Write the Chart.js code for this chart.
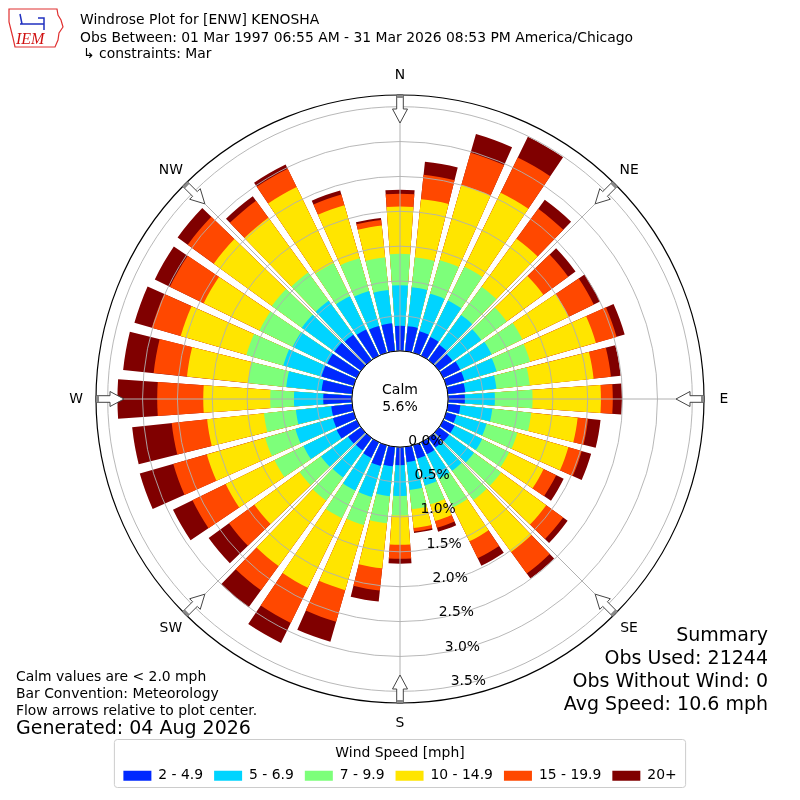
<!DOCTYPE html>
<html>
<head>
<meta charset="utf-8">
<script src="https://cdn.jsdelivr.net/npm/chart.js@4.4.1/dist/chart.umd.min.js"></script>
<style>
  html, body { margin: 0; padding: 0; background: #fff; }
  canvas { display: block; }
</style>
</head>
<body>
<canvas id="rose" width="800" height="800"></canvas>
<script>
// direction bins, 10 degrees apart, clockwise from north
const directions = ['0°','10°','20°','30°','40°','50°','60°','70°','80°','90°','100°','110°',
  '120°','130°','140°','150°','160°','170°','180°','190°','200°','210°','220°','230°',
  '240°','250°','260°','270°','280°','290°','300°','310°','320°','330°','340°','350°'];
const speedBins = ['2 - 4.9', '5 - 6.9', '7 - 9.9', '10 - 14.9', '15 - 19.9', '20+'];

// percent of observations per direction, one array per speed bin
const speed2to5 = [0.36,0.36,0.32,0.30,0.27,0.24,0.27,0.27,0.25,0.24,0.18,0.15,0.18,0.18,0.17,0.19,0.20,0.22,
  0.26,0.28,0.31,0.25,0.22,0.23,0.32,0.31,0.30,0.41,0.44,0.48,0.47,0.47,0.45,0.42,0.40,0.40];
const speed5to7 = [0.58,0.56,0.56,0.58,0.53,0.51,0.50,0.48,0.45,0.43,0.46,0.45,0.44,0.44,0.41,0.39,0.40,0.40,
  0.44,0.43,0.46,0.52,0.48,0.48,0.53,0.56,0.51,0.42,0.51,0.57,0.55,0.58,0.60,0.53,0.52,0.48];
const speed7to10 = [0.45,0.43,0.50,0.54,0.50,0.45,0.49,0.50,0.48,0.54,0.56,0.46,0.43,0.48,0.52,0.46,0.28,0.28,
  0.28,0.39,0.42,0.44,0.41,0.38,0.46,0.45,0.46,0.34,0.55,0.55,0.53,0.53,0.50,0.53,0.49,0.47];
const speed10to15 = [0.68,0.84,1.12,1.18,0.85,0.65,0.74,0.98,0.92,0.98,0.67,0.76,0.55,0.80,0.92,0.54,0.25,0.27,
  0.42,0.65,0.97,1.11,1.16,0.80,0.78,0.87,0.82,0.96,0.88,0.98,0.89,1.03,0.97,1.21,0.79,0.46];
const speed15to20 = [0.18,0.35,0.48,0.56,0.53,0.44,0.40,0.31,0.25,0.17,0.15,0.20,0.20,0.30,0.38,0.27,0.10,0.05,
  0.20,0.32,0.47,0.56,0.43,0.45,0.53,0.50,0.51,0.66,0.48,0.43,0.54,0.46,0.30,0.29,0.16,0.08];
const speed20plus = [0.06,0.19,0.28,0.33,0.16,0.13,0.10,0.12,0.14,0.13,0.18,0.14,0.12,0.08,0.09,0.12,0.06,0.02,
  0.07,0.16,0.30,0.32,0.30,0.36,0.31,0.50,0.57,0.57,0.44,0.26,0.24,0.18,0.08,0.07,0.06,0.03];

const calmPct = 5.6;
const tickValues = [0, 0.5, 1.0, 1.5, 2.0, 2.5, 3.0, 3.5];
const compass = ['N', 'NE', 'E', 'SE', 'S', 'SW', 'W', 'NW'];

const binColors = ['#0028ff', '#00d4ff', '#7dff7a', '#ffe500', '#ff4800', '#800000'];
const R_MIN = -0.69, R_MAX = 3.667;   // 0% sits on the calm ring
const BAR_DEG = 8, GAP_DEG = 2;
const FONT = "'DejaVu Sans', sans-serif";

Chart.defaults.font.family = FONT;
Chart.defaults.color = '#000';

// polarArea has no stacking: every dataset holds the running total and the
// smaller totals are drawn over the bigger ones. A blank slot after each bar
// leaves the gap between directions.
const bins = [speed2to5, speed5to7, speed7to10, speed10to15, speed15to20, speed20plus];
const running = directions.map(() => 0);
const datasets = bins.map((vals, k) => {
  const data = [];
  vals.forEach((v, i) => {
    running[i] += v;
    data.push(+running[i].toFixed(3), 0);
  });
  return {
    label: speedBins[k],
    data: data,
    angle: c => (c.dataIndex % 2 ? GAP_DEG : BAR_DEG),
    backgroundColor: c => (c.dataIndex % 2 ? 'rgba(0,0,0,0)' : binColors[k]),
    borderWidth: 0
  };
});
const labels = [];
directions.forEach(d => labels.push(d, ''));

function poly(ctx, pts) {
  ctx.beginPath();
  pts.forEach((p, k) => (k ? ctx.lineTo(p.x, p.y) : ctx.moveTo(p.x, p.y)));
  ctx.closePath();
}

const roseDecor = {
  id: 'roseDecor',
  afterDatasetsDraw(chart) {
    const r = chart.scales.r, ctx = chart.ctx;
    ctx.save();
    ctx.beginPath();
    ctx.arc(r.xCenter, r.yCenter, r.getDistanceFromCenterForValue(0), 0, 2 * Math.PI);
    ctx.fillStyle = '#fff';
    ctx.fill();
    ctx.restore();
  },
  afterDraw(chart) {
    const r = chart.scales.r, ctx = chart.ctx;
    const rad = deg => (deg - 90) * Math.PI / 180;
    const at = (deg, dist) => ({
      x: r.xCenter + Math.cos(rad(deg)) * dist,
      y: r.yCenter + Math.sin(rad(deg)) * dist
    });
    const inner = r.getDistanceFromCenterForValue(0);
    const outer = r.drawingArea;
    ctx.save();

    // spokes at the 8 compass points
    ctx.strokeStyle = '#b0b0b0';
    ctx.lineWidth = 1;
    compass.forEach((c, i) => {
      const a = at(i * 45, inner), b = at(i * 45, outer);
      ctx.beginPath(); ctx.moveTo(a.x, a.y); ctx.lineTo(b.x, b.y); ctx.stroke();
    });

    // edge of the calm circle
    ctx.beginPath();
    ctx.arc(r.xCenter, r.yCenter, inner, 0, 2 * Math.PI);
    ctx.strokeStyle = '#000';
    ctx.lineWidth = 1;
    ctx.stroke();

    // flow arrows + compass labels
    ctx.font = '13.9px ' + FONT;
    ctx.textAlign = 'center';
    ctx.textBaseline = 'middle';
    compass.forEach((c, i) => {
      const deg = i * 45;
      const side = rad(deg) + Math.PI / 2;
      const pt = (dist, off) => {
        const p = at(deg, dist);
        return { x: p.x + Math.cos(side) * off, y: p.y + Math.sin(side) * off };
      };
      poly(ctx, [pt(outer, -3.3), pt(outer - 14, -3.3), pt(outer - 14, -7.5), pt(outer - 28, 0),
                 pt(outer - 14, 7.5), pt(outer - 14, 3.3), pt(outer, 3.3)]);
      ctx.fillStyle = '#fff'; ctx.fill();
      ctx.strokeStyle = '#444'; ctx.lineWidth = 1; ctx.stroke();
      poly(ctx, [pt(outer, -3.3), pt(outer - 3, -3.3), pt(outer - 3, 3.3), pt(outer, 3.3)]);
      ctx.fillStyle = '#888'; ctx.fill();
      const l = at(deg, 324);
      ctx.fillStyle = '#000';
      ctx.fillText(c, l.x, l.y);
    });

    // radial tick labels along 170 degrees
    ctx.textAlign = 'left';
    ctx.textBaseline = 'bottom';
    tickValues.forEach(v => {
      const p = at(170, r.getDistanceFromCenterForValue(v));
      ctx.fillText(v.toFixed(1) + '%', p.x, p.y + 1.5);
    });

    // calm share in the middle
    ctx.font = '14px ' + FONT;
    ctx.textAlign = 'center';
    ctx.textBaseline = 'middle';
    ctx.fillText('Calm', r.xCenter, r.yCenter - 9);
    ctx.fillText(calmPct.toFixed(1) + '%', r.xCenter, r.yCenter + 8);

    // header
    ctx.textAlign = 'left';
    ctx.font = '13.9px ' + FONT;
    ctx.fillText('Windrose Plot for [ENW] KENOSHA', 80, 20);
    ctx.fillText('Obs Between: 01 Mar 1997 06:55 AM - 31 Mar 2026 08:53 PM America/Chicago', 80, 38);
    ctx.fillText('\u21b3 constraints: Mar', 83, 54);

    // IEM logo
    ctx.strokeStyle = '#e03030'; ctx.lineWidth = 1.2;
    ctx.beginPath();
    ctx.moveTo(9, 9); ctx.lineTo(57, 9); ctx.lineTo(58, 15); ctx.lineTo(61, 20); ctx.lineTo(63, 27);
    ctx.lineTo(59, 33); ctx.lineTo(58, 40); ctx.lineTo(55, 47); ctx.lineTo(15, 47); ctx.lineTo(13, 38);
    ctx.lineTo(11, 30); ctx.lineTo(9, 22); ctx.closePath(); ctx.stroke();
    ctx.strokeStyle = '#2030c0'; ctx.lineWidth = 1.5;
    ctx.beginPath();
    ctx.moveTo(20, 14); ctx.lineTo(22, 24); ctx.moveTo(20, 24); ctx.lineTo(44, 24);
    ctx.moveTo(38, 18); ctx.lineTo(44, 18); ctx.lineTo(44, 30);
    ctx.stroke();
    ctx.fillStyle = '#d01010';
    ctx.font = 'italic 16px "Liberation Serif", serif';
    ctx.fillText('IEM', 16, 40);

    // notes, bottom left
    ctx.fillStyle = '#000';
    ctx.font = '13.9px ' + FONT;
    ctx.fillText('Calm values are < 2.0 mph', 16, 677);
    ctx.fillText('Bar Convention: Meteorology', 16, 694);
    ctx.fillText('Flow arrows relative to plot center.', 16, 711);
    ctx.font = '19px ' + FONT;
    ctx.fillText('Generated: 04 Aug 2026', 16, 729);

    // summary, bottom right
    ctx.textAlign = 'right';
    ctx.fillText('Summary', 768, 636);
    ctx.fillText('Obs Used: 21244', 768, 659);
    ctx.fillText('Obs Without Wind: 0', 768, 682);
    ctx.fillText('Avg Speed: 10.6 mph', 768, 705);

    // frame around the legend
    const lg = chart.legend;
    const hb = lg.legendHitBoxes;
    if (hb && hb.length) {
      const last = hb[hb.length - 1];
      const x0 = hb[0].left - 9, x1 = last.left + last.width + 9;
      const y0 = lg.top + 36.5, y1 = lg.top + 84.5;
      ctx.beginPath();
      ctx.roundRect(x0, y0, x1 - x0, y1 - y0, 3);
      ctx.strokeStyle = '#cccccc'; ctx.lineWidth = 1;
      ctx.stroke();
    }
    ctx.restore();
  }
};

new Chart(document.getElementById('rose'), {
  type: 'polarArea',
  data: { labels: labels, datasets: datasets },
  options: {
    responsive: false,
    animation: false,
    events: [],
    layout: { padding: { left: 95, right: 95, top: 95, bottom: 7.4 } },
    scales: {
      r: {
        min: R_MIN,
        max: R_MAX,
        startAngle: -BAR_DEG / 2,
        afterBuildTicks: s => { s.ticks = tickValues.concat([R_MAX]).map(v => ({ value: v })); },
        ticks: { display: false },
        border: { display: false },
        angleLines: { display: false },
        pointLabels: { display: false },
        grid: {
          circular: true,
          z: 1,
          color: c => (c.tick.value === R_MAX ? '#000' : '#b0b0b0'),
          lineWidth: c => (c.tick.value === R_MAX ? 1.2 : 0.9)
        }
      }
    },
    plugins: {
      tooltip: { enabled: false },
      legend: {
        position: 'bottom',
        title: {
          display: true,
          text: 'Wind Speed [mph]',
          font: { size: 13.9 },
          padding: { top: 43, bottom: -5 }
        },
        labels: {
          boxWidth: 28,
          boxHeight: 10,
          padding: 11,
          font: { size: 13.9 },
          generateLabels: () => speedBins.map((b, i) => ({
            text: b, fillStyle: binColors[i], strokeStyle: binColors[i],
            lineWidth: 0, hidden: false, datasetIndex: i
          }))
        }
      }
    }
  },
  plugins: [roseDecor]
});
</script>
</body>
</html>
